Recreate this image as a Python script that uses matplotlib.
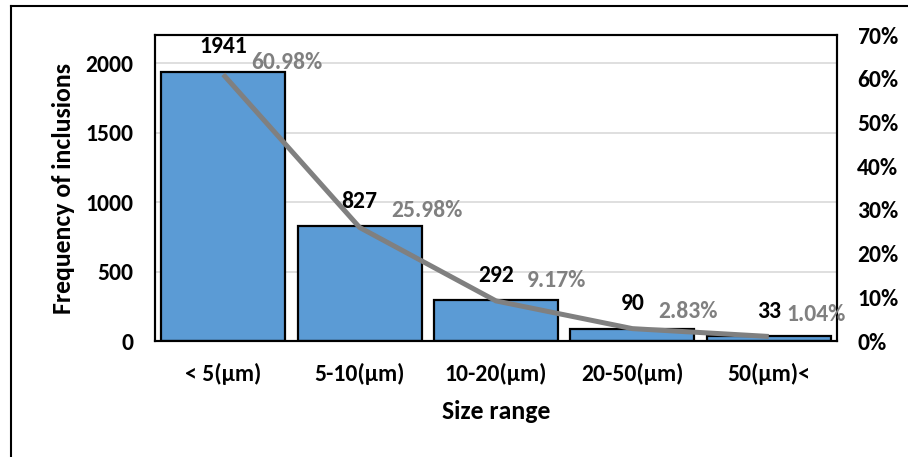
import matplotlib.pyplot as plt
from matplotlib.lines import Line2D
import numpy as np

categories = ["< 5(\u00b5m)", "5-10(\u00b5m)", "10-20(\u00b5m)", "20-50(\u00b5m)", "50(\u00b5m)<"]
counts = [1941, 827, 292, 90, 33]
percents = [60.98, 25.98, 9.17, 2.83, 1.04]
left_ticks = [0, 500, 1000, 1500, 2000]
right_ticks = [0, 10, 20, 30, 40, 50, 60, 70]

plt.rcParams['font.family'] = 'Carlito'
plt.rcParams['font.weight'] = 'bold'

W, H = 908, 457
fig = plt.figure(figsize=(W / 100, H / 100), dpi=100)
ax = fig.add_axes([155 / W, 1 - 341 / H, 682 / W, 306 / H])
ax2 = ax.twinx()

x = np.arange(len(categories))
bar_color = "#5B9BD5"
line_color = "#808080"
fs = 17
title_fs = 18.5

ax.set_axisbelow(True)
ax.yaxis.grid(True, color="#D9D9D9", linewidth=1.2)
ax.bar(x, counts, width=0.91, color=bar_color, edgecolor="black", linewidth=1.6, zorder=2)
ax.set_xlim(-0.5, len(categories) - 0.5)
ax.set_ylim(0, 2205)
ax.set_yticks(left_ticks)
ax.set_yticklabels([str(t) for t in left_ticks], fontsize=fs, fontweight='bold')
ax.set_xticks(x)
ax.set_xticklabels(categories, fontsize=fs, fontweight='bold')
ax.tick_params(axis='both', length=0)
ax.tick_params(axis='y', pad=15.5)
ax.tick_params(axis='x', pad=15.5)
ax.set_xlabel("Size range", fontsize=title_fs, fontweight='bold', va='center')
ax.set_ylabel("Frequency of inclusions", fontsize=title_fs, fontweight='bold', va='center')
ax.xaxis.set_label_coords(0.5, -0.232)
ax.yaxis.set_label_coords(-0.134, 0.5)

for xi, c in zip(x, counts):
    ax.annotate(str(c), (xi, c), xytext=(0, 25), textcoords='offset pixels',
                ha='center', va='center', fontsize=fs, fontweight='bold', color='black')

ax2.plot(x, percents, color=line_color, linewidth=3.6, solid_capstyle='butt', zorder=3)
ax2.set_ylim(0, 70)
ax2.set_yticks(right_ticks)
ax2.set_yticklabels([f"{t}%" for t in right_ticks], fontsize=fs, fontweight='bold')
ax2.tick_params(axis='y', length=0, pad=14.5)

pct_offsets = [(64, 12), (67, 17), (60, 20), (56, 17), (47, 22)]
for xi, p, (dx, dy) in zip(x, percents, pct_offsets):
    ax2.annotate(f"{p:.2f}%", (xi, p), xytext=(dx, dy), textcoords='offset pixels',
                 ha='center', va='center', fontsize=fs, fontweight='bold', color=line_color)

for a in (ax, ax2):
    for s in a.spines.values():
        s.set_color("black")
        s.set_linewidth(1.5)

# outer chart border
fig.add_artist(Line2D([11 / W, 11 / W], [0, 1 - 6 / H], color="black", linewidth=1.5))
fig.add_artist(Line2D([11 / W, 1], [1 - 6 / H, 1 - 6 / H], color="black", linewidth=1.5))

fig.savefig("out.png", dpi=100)
